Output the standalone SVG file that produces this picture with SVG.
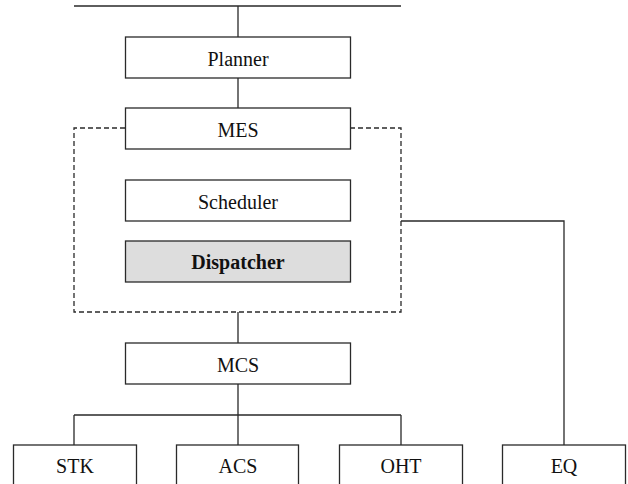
<svg xmlns="http://www.w3.org/2000/svg" width="628" height="484" viewBox="0 0 628 484">
<style>
.box{fill:#fff;stroke:#2a2a2a;stroke-width:1.3}
.hl{fill:#dddddd}
.ln{fill:none;stroke:#2a2a2a;stroke-width:1.3}
.dash{fill:none;stroke:#2a2a2a;stroke-width:1.3;stroke-dasharray:5,3}
text{font-family:"Liberation Serif","Times New Roman",serif;font-size:20px;fill:#111;text-anchor:middle}
.b{font-weight:bold}
</style>
<rect width="628" height="484" fill="#fff"/>
<g id="connectors">
<path class="ln" d="M74,6H401M238,6V37M238,78V108M238,312V343M238,383V445M74,415H401M74,415V445M401,415V445M401,221H564V445"/>
<path class="dash" d="M125,128H74V312H401V128H350"/>
</g>
<g id="planner"><rect class="box" x="125.5" y="37" width="225" height="41"/><text x="238" y="65.5">Planner</text></g>
<g id="mes"><rect class="box" x="125.5" y="108" width="225" height="41"/><text x="238" y="136.5">MES</text></g>
<g id="scheduler"><rect class="box" x="125.5" y="180" width="225" height="41"/><text x="238" y="208.5">Scheduler</text></g>
<g id="dispatcher"><rect class="box hl" x="125.5" y="241" width="225" height="41"/><text class="b" x="238" y="269">Dispatcher</text></g>
<g id="mcs"><rect class="box" x="125.5" y="343" width="225" height="41"/><text x="238" y="371.5">MCS</text></g>
<g id="stk"><rect class="box" x="13.5" y="445" width="123" height="42"/><text x="75" y="473">STK</text></g>
<g id="acs"><rect class="box" x="176.5" y="445" width="122" height="42"/><text x="238" y="473">ACS</text></g>
<g id="oht"><rect class="box" x="339.5" y="445" width="123" height="42"/><text x="401" y="473">OHT</text></g>
<g id="eq"><rect class="box" x="502.5" y="445" width="123" height="42"/><text x="564" y="473">EQ</text></g>
</svg>
